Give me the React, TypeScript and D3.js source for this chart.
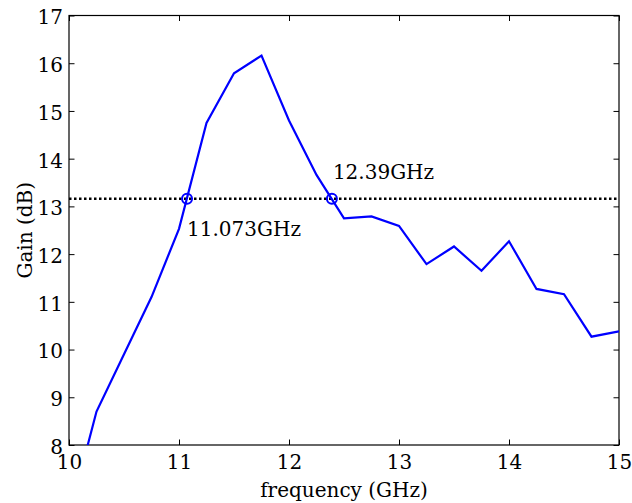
import React, { useEffect, useRef } from 'react';
import * as d3 from 'd3';

const freq = [10, 10.25, 10.5, 10.75, 11, 11.25, 11.5, 11.75, 12, 12.25, 12.5, 12.75, 13, 13.25, 13.5, 13.75, 14, 14.25, 14.5, 14.75, 15];
const gain = [6.5, 8.7, 9.9, 11.1, 12.53, 14.75, 15.79, 16.16, 14.8, 13.66, 12.75, 12.79, 12.59, 11.79, 12.16, 11.65, 12.27, 11.27, 11.16, 10.27, 10.38];
const xTicks = [10, 11, 12, 13, 14, 15];
const yTicks = [8, 9, 10, 11, 12, 13, 14, 15, 16, 17];
const refLevel = 13.16;
const markers = [
  { f: 11.073, label: '11.073GHz', dx: 0, dy: 37 },
  { f: 12.39, label: '12.39GHz', dx: 1, dy: -20 },
];

const FONT = "'DejaVu Serif', serif";

const App = () => {
  const ref = useRef<SVGSVGElement | null>(null);

  useEffect(() => {
    document.body.style.margin = '0';
    const svg = d3.select(ref.current);
    svg.selectAll('*').remove();

    const margin = { top: 15.5, right: 13, bottom: 58, left: 69 };
    const width = 632 - margin.left - margin.right;
    const height = 503 - margin.top - margin.bottom;

    const g = svg
      .append('g')
      .attr('transform', `translate(${margin.left},${margin.top})`)
      .style('font-family', FONT)
      .style('font-size', '20px');

    const x = d3.scaleLinear().domain([10, 15]).range([0, width]);
    const y = d3.scaleLinear().domain([8, 17]).range([height, 0]);

    g.append('rect')
      .attr('width', width)
      .attr('height', height)
      .attr('fill', 'white');

    g.append('clipPath')
      .attr('id', 'plot-clip')
      .append('rect')
      .attr('width', width)
      .attr('height', height);

    // axes, ticks pointing inward
    const styleAxis = (sel: any) => {
      sel.attr('font-family', null).attr('font-size', null);
      sel.select('.domain').remove();
      sel.selectAll('line').attr('stroke', 'black');
      sel.selectAll('text').attr('fill', 'black');
    };

    g.append('g')
      .attr('transform', `translate(0,${height})`)
      .call(d3.axisBottom(x).tickValues(xTicks).tickSize(-5.5).tickPadding(10).tickFormat(d3.format('d')))
      .call(styleAxis);
    g.append('g')
      .call(d3.axisTop(x).tickValues(xTicks).tickSize(-5.5).tickFormat(() => ''))
      .call(styleAxis);
    g.append('g')
      .call(d3.axisLeft(y).tickValues(yTicks).tickSize(-5.5).tickPadding(6).tickFormat(d3.format('d')))
      .call(styleAxis)
      .selectAll('text')
      .attr('dy', '0.42em');
    g.append('g')
      .attr('transform', `translate(${width},0)`)
      .call(d3.axisRight(y).tickValues(yTicks).tickSize(-5.5).tickFormat(() => ''))
      .call(styleAxis);

    g.append('rect')
      .attr('width', width)
      .attr('height', height)
      .attr('fill', 'none')
      .attr('stroke', 'black')
      .attr('stroke-width', 1.2);

    // -3 dB reference line
    g.append('line')
      .attr('x1', 0)
      .attr('x2', width)
      .attr('y1', y(refLevel))
      .attr('y2', y(refLevel))
      .attr('stroke', 'black')
      .attr('stroke-width', 2.5)
      .attr('stroke-dasharray', '2.5,2.5');

    const line = d3
      .line<number>()
      .x((d, i) => x(freq[i]))
      .y((d) => y(d));

    g.append('path')
      .datum(gain)
      .attr('clip-path', 'url(#plot-clip)')
      .attr('d', line)
      .attr('fill', 'none')
      .attr('stroke', '#0000ff')
      .attr('stroke-width', 2.2)
      .attr('stroke-linejoin', 'miter');

    markers.forEach((m) => {
      g.append('circle')
        .attr('cx', x(m.f))
        .attr('cy', y(refLevel))
        .attr('r', 5)
        .attr('fill', 'none')
        .attr('stroke', '#0000ff')
        .attr('stroke-width', 2);
      g.append('text')
        .attr('x', x(m.f) + m.dx)
        .attr('y', y(refLevel) + m.dy)
        .text(m.label);
    });

    g.append('text')
      .attr('x', width / 2)
      .attr('y', height + 51.5)
      .attr('text-anchor', 'middle')
      .text('frequency (GHz)');

    g.append('text')
      .attr('transform', `translate(${32 - margin.left},${height / 2}) rotate(-90)`)
      .attr('text-anchor', 'middle')
      .text('Gain (dB)');
  }, []);

  return <svg ref={ref} width={632} height={503} style={{ display: 'block', background: 'white' }} />;
};

export default App;
